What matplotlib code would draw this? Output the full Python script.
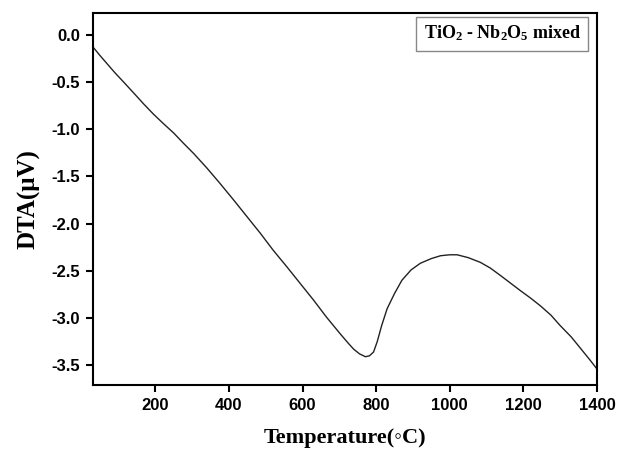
import matplotlib
matplotlib.use("Agg")
import matplotlib.pyplot as plt

# DTA curve
temperature = [31, 50, 70, 90, 114, 140, 168, 195, 222, 250, 277, 305, 340, 375, 413, 450,
               485, 520, 558, 595, 630, 665, 703, 725, 739, 755, 771, 782, 793, 803,
               815, 830, 850, 870, 895, 920, 950, 975, 1000, 1020, 1050, 1083, 1110,
               1138, 1165, 1192, 1220, 1246, 1275, 1300, 1330, 1355, 1380, 1400]
dta = [-0.13, -0.22, -0.31, -0.40, -0.50, -0.61, -0.73, -0.84, -0.94, -1.04, -1.15, -1.26,
       -1.41, -1.57, -1.75, -1.93, -2.10, -2.28, -2.46, -2.64, -2.81, -2.99, -3.17,
       -3.27, -3.33, -3.38, -3.41, -3.40, -3.36, -3.25, -3.08, -2.90, -2.74, -2.60,
       -2.49, -2.42, -2.37, -2.34, -2.33, -2.33, -2.36, -2.41, -2.47, -2.55, -2.63,
       -2.71, -2.79, -2.87, -2.97, -3.08, -3.20, -3.32, -3.44, -3.54]

yticks = [0.0, -0.5, -1.0, -1.5, -2.0, -2.5, -3.0, -3.5]
xticks = [200, 400, 600, 800, 1000, 1200, 1400]

plt.rcParams['mathtext.fontset'] = 'custom'
plt.rcParams['mathtext.rm'] = 'Liberation Serif:bold'
plt.rcParams['mathtext.it'] = 'Liberation Serif:bold'
plt.rcParams['mathtext.bf'] = 'Liberation Serif:bold'

fig = plt.figure(figsize=(6.18, 4.53), dpi=100)
ax = fig.add_axes([0.150, 0.150, 0.816, 0.821])

ax.plot(temperature, dta, color='#222222', lw=1.0)

ax.set_xlim(30, 1400)
ax.set_ylim(-3.71, 0.23)
ax.set_xticks(xticks)
ax.set_yticks(yticks)
ax.set_xticklabels([str(t) for t in xticks])
ax.set_yticklabels([f"{t:.1f}" for t in yticks])

for s in ax.spines.values():
    s.set_linewidth(1.5)
ax.tick_params(direction='out', length=5, width=1.5, top=False, right=False, pad=4)
for lab in ax.get_xticklabels() + ax.get_yticklabels():
    lab.set_family('Liberation Sans')
    lab.set_fontweight('bold')
    lab.set_fontsize(12)

ax.set_xlabel('Temperature(\u25e6C)', family=['Liberation Serif', 'DejaVu Serif'],
              fontweight='bold', fontsize=16, labelpad=11)
ax.set_ylabel('DTA(\u03bcV)', family=['Liberation Serif', 'DejaVu Serif'],
              fontweight='bold', fontsize=18, labelpad=8)

ax.text(0.812, 0.945, r'TiO$_{2}$ - Nb$_{2}$O$_{5}$ mixed', transform=ax.transAxes,
        ha='center', va='center', family='Liberation Serif', fontweight='bold', fontsize=13,
        bbox=dict(boxstyle='square,pad=0.4', fc='white', ec='#888888', lw=1.0))

fig.savefig('out.png', dpi=100)
